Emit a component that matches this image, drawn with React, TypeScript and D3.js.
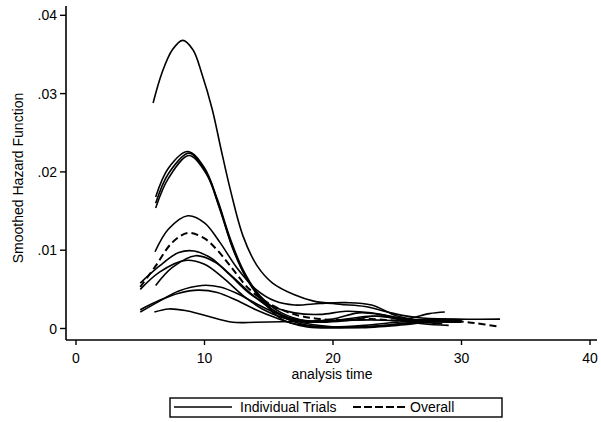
import React from "react";
import * as d3 from "d3";

type Pt = [number, number];

// Individual trial smoothed hazard curves: [analysis time, hazard]
const trialA: Pt[] = [[6.0,.0288],[6.7,.0327],[7.5,.0356],[8.3,.0368],[9.1,.0356],[9.8,.0325],[10.6,.0280],[11.3,.0228],[12.0,.0178],[13.0,.0118],[14.1,.0080],[15.3,.0058],[17.0,.0043],[18.5,.0035],[20.5,.0031],[22.5,.0028],[24.5,.0020],[26.5,.0014],[29.5,.0012],[33,.0012]];
const trialB1: Pt[] = [[6.2,.0168],[7.2,.0205],[8.7,.0226],[10.0,.0205],[11.0,.0165],[12.0,.0115],[13.0,.0075],[14.3,.0042],[16.0,.0020],[18.0,.0010],[20.0,.0012],[22.0,.0020],[24.0,.0017],[25.5,.0012],[27.5,.0019],[28.7,.0021]];
const trialB2: Pt[] = [[6.2,.0160],[7.2,.0198],[8.8,.0224],[10.1,.0200],[11.1,.0158],[12.1,.0108],[13.1,.0070],[14.4,.0038],[16.0,.0016],[18.0,.0004],[20.0,.0002],[22.5,.0004],[25,.0008],[27.5,.0010],[30,.0010]];
const trialB3: Pt[] = [[6.2,.0154],[7.2,.0192],[8.8,.0221],[10.2,.0196],[11.2,.0152],[12.2,.0102],[13.2,.0066],[14.5,.0035],[16.0,.0012],[18.0,.0002],[21,.0001],[24,.0004],[27,.0009],[30,.0009]];
const trialC: Pt[] = [[6.15,.0098],[7.2,.0127],[8.7,.0144],[10.0,.0135],[11.2,.0110],[12.5,.0078],[14.0,.0050],[15.5,.0035],[17,.0030],[19,.0032],[21,.0033],[23,.0030],[25,.0016],[27,.0010],[29,.0008],[30,.0008]];
const trialD1: Pt[] = [[5.0,.0058],[6.5,.0080],[8.0,.0097],[9.2,.0099],[10.5,.0090],[12,.0068],[13.5,.0045],[15,.0030],[17,.0020],[19,.0018],[21,.0022],[23,.0020],[25,.0014],[27,.0010],[30,.0011]];
const trialD2: Pt[] = [[6.2,.0055],[7.5,.0078],[9.3,.0093],[10.8,.0085],[12.2,.0066],[13.8,.0042],[15.5,.0022],[17.5,.0008],[20,.0002],[22,.0001],[25,.0004],[28,.0009],[30,.0010]];
const trialD3: Pt[] = [[5.0,.0050],[6.5,.0072],[8.5,.0087],[10,.0082],[11.5,.0064],[13,.0042],[14.5,.0025],[16.5,.0012],[18.5,.0008],[21,.0012],[23,.0016],[25,.0013],[27,.0008],[28.5,.0006]];
const trialE1: Pt[] = [[5.0,.0021],[6.5,.0035],[8.0,.0048],[9.8,.0055],[11.2,.0053],[12.5,.0045],[14,.0032],[15.5,.0020],[17,.0012],[19,.0008],[21,.0010],[23.5,.0016],[25,.0012],[27,.0006],[29,.0004]];
const trialE2: Pt[] = [[5.0,.0024],[6.5,.0036],[8.0,.0045],[9.5,.0049],[11.0,.0046],[12.5,.0036],[14,.0024],[15.5,.0014],[17,.0006],[19,.0002],[22,.0002],[25,.0005],[27.5,.0008],[30,.0009]];
const trialF: Pt[] = [[6.1,.0021],[7.2,.0025],[8.5,.0023],[10,.0017],[12.2,.0008],[14,.0008],[17,.0009],[20,.0010],[23,.0011],[25,.0010],[28,.0012],[30,.0011]];

const trials: Pt[][] = [trialA, trialB1, trialB2, trialB3, trialC, trialD1, trialD2, trialD3, trialE1, trialE2, trialF];

// Overall (pooled) smoothed hazard
const overall: Pt[] = [[5.0,.0053],[6.2,.0080],[7.5,.0110],[8.7,.0122],[10.0,.0115],[11.0,.0100],[12.0,.0080],[13.5,.0050],[15,.0032],[17,.0018],[19,.0012],[21,.0011],[23,.0012],[25,.0010],[27,.0010],[29,.0010],[31,.0007],[33,.0002]];

const xTicks = [0, 10, 20, 30, 40];
const yTicks = [0, 0.01, 0.02, 0.03, 0.04];
const yTickLabels = ["0", ".01", ".02", ".03", ".04"];

const FONT = "'Liberation Sans', Arial, Helvetica, sans-serif";

export default function App() {
  const W = 601, H = 422;
  const x = d3.scaleLinear().domain([0, 40]).range([76, 590]);
  const y = d3.scaleLinear().domain([0, 0.04]).range([328.5, 15.3]);
  const axisX = 66, axisY = 340;
  const line = d3.line<Pt>().x(d => x(d[0])).y(d => y(d[1])).curve(d3.curveCatmullRom.alpha(0.5));

  return (
    <svg width={W} height={H} style={{ position: "absolute", left: 0, top: 0, background: "#fff" }}>
      <rect x={0} y={0} width={W} height={H} fill="#fff" />
      {/* axes */}
      <line x1={axisX} y1={6} x2={axisX} y2={axisY} stroke="#000" strokeWidth={1.6} />
      <line x1={axisX} y1={axisY} x2={597} y2={axisY} stroke="#000" strokeWidth={1.6} />
      {yTicks.map((t, i) => (
        <g key={"y" + i}>
          <line x1={axisX - 6} x2={axisX} y1={y(t)} y2={y(t)} stroke="#000" strokeWidth={1.4} />
          <text x={axisX - 9} y={y(t) + 5} textAnchor="end" fontFamily={FONT} fontSize={14} fill="#000">{yTickLabels[i]}</text>
        </g>
      ))}
      {xTicks.map((t, i) => (
        <g key={"x" + i}>
          <line x1={x(t)} x2={x(t)} y1={axisY} y2={axisY + 5} stroke="#000" strokeWidth={1.4} />
          <text x={x(t)} y={363} textAnchor="middle" fontFamily={FONT} fontSize={14} fill="#000">{t}</text>
        </g>
      ))}
      <text x={332} y={379} textAnchor="middle" fontFamily={FONT} fontSize={14} fill="#000">analysis time</text>
      <text transform="translate(23,178) rotate(-90)" textAnchor="middle" fontFamily={FONT} fontSize={14} fill="#000">Smoothed Hazard Function</text>

      {/* curves */}
      {trials.map((tr, i) => (
        <path key={"t" + i} d={line(tr) || ""} fill="none" stroke="#000" strokeWidth={1.6} />
      ))}
      <path d={line(overall) || ""} fill="none" stroke="#000" strokeWidth={2} strokeDasharray="7,4" />

      {/* legend */}
      <rect x={170} y={398} width={332} height={19} fill="none" stroke="#000" strokeWidth={1.4} />
      <line x1={174} x2={232} y1={407} y2={407} stroke="#000" strokeWidth={1.4} />
      <text x={240} y={412} fontFamily={FONT} fontSize={14} fill="#000">Individual Trials</text>
      <line x1={353} x2={405} y1={407} y2={407} stroke="#000" strokeWidth={2} strokeDasharray="8,3" />
      <text x={410} y={412} fontFamily={FONT} fontSize={14} fill="#000">Overall</text>
    </svg>
  );
}
